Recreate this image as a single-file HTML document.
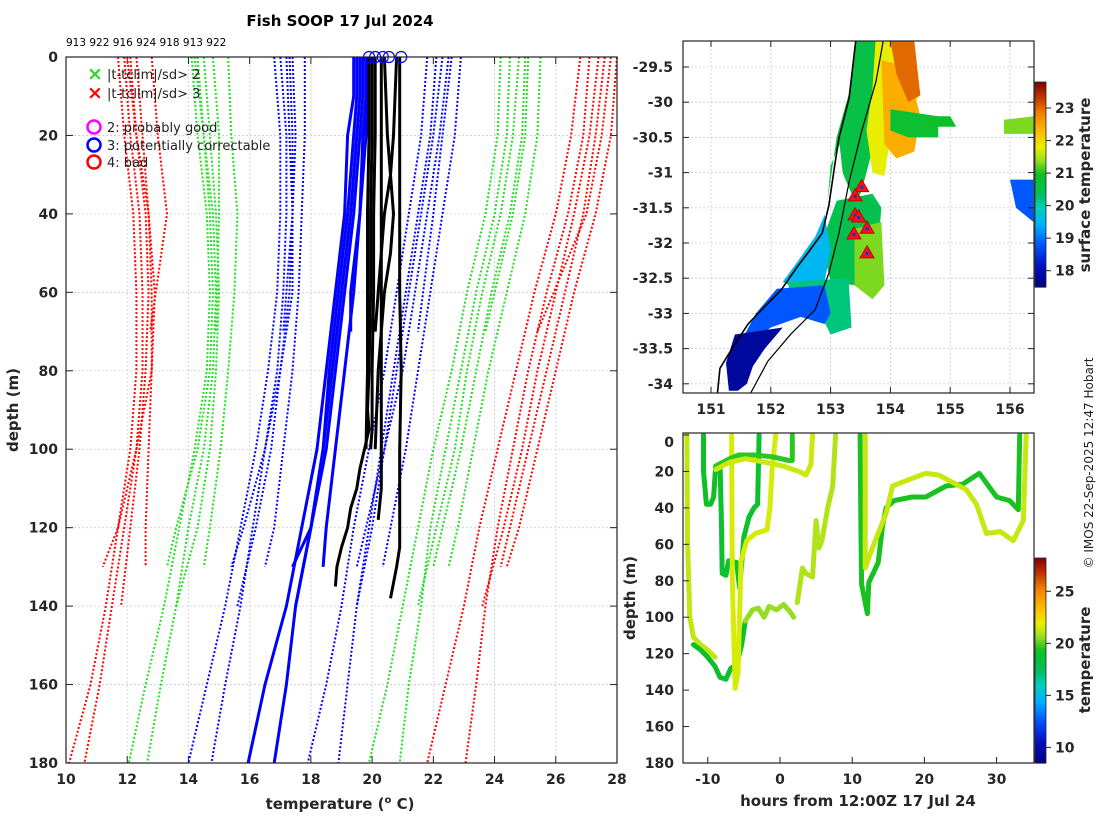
<!DOCTYPE html>
<html><head><meta charset="utf-8"><style>
html,body{margin:0;padding:0;background:#fff;}
svg{display:block;font-family:"DejaVu Sans","Liberation Sans",sans-serif;}
.tk{font-size:14px;font-weight:bold;fill:#262626;}
</style></head><body>
<svg id="fig" width="1100" height="820" viewBox="0 0 1100 820">
<text x="340" y="26" text-anchor="middle" font-size="15" font-weight="bold">Fish SOOP 17 Jul 2024</text>
<text x="66" y="46" font-size="10.5">913 922 916 924 918 913 922</text>
<g id="main"></g>
<g id="map"></g>
<g id="sect"></g>
<text transform="translate(1093,463) rotate(-90)" text-anchor="middle" font-size="12" fill="#222">© IMOS 22-Sep-2025 12:47 Hobart</text>
</svg>
<script>
// ---------- Profile plot data ----------
const D180=[0,20,40,60,80,100,120,140,160,180];
const D140=[0,20,40,60,80,100,120,140];
const D130=[0,20,40,60,80,100,120,130];
const D70=[0,20,40,70];
const redLeft=[
 [D180,[11.7,11.9,12.2,12.3,12.3,12.1,11.7,11.3,10.8,10.1]],
 [D180,[11.9,12.1,12.4,12.5,12.5,12.3,11.9,11.5,11.1,10.6]],
 [D140,[12.1,12.3,12.6,12.7,12.6,12.4,12.1,11.8]],
 [D130,[12.3,12.5,12.7,12.8,12.8,12.3,11.7,11.2]],
 [D70,[12.8,13.0,13.3,12.75]],
 [D130,[12.0,12.3,12.7,12.9,12.8,12.7,12.6,12.6]]];
const greenLeft=[
 [D180,[14.1,14.3,14.6,14.7,14.6,14.2,13.7,13.2,12.6,12.05]],
 [D180,[14.3,14.5,14.8,14.9,14.8,14.5,14.0,13.6,13.1,12.65]],
 [D140,[14.5,14.7,14.9,15.0,14.9,14.7,14.3,13.6]],
 [D130,[14.2,14.5,14.7,14.8,14.7,14.3,13.6,13.3]],
 [D70,[14.8,15.0,15.0,14.9]],
 [D130,[15.3,15.4,15.6,15.5,15.3,15.05,14.7,14.5]]];
const blueLeft=[
 [D180,[16.8,17.0,17.0,16.9,16.6,16.2,15.7,15.2,14.6,14.0]],
 [D180,[17.0,17.2,17.2,17.1,16.9,16.5,16.1,15.7,15.2,14.75]],
 [D140,[17.2,17.3,17.4,17.3,17.0,16.7,16.2,15.6]],
 [D130,[17.3,17.4,17.4,17.4,17.0,16.5,15.8,15.4]],
 [D70,[17.4,17.5,17.4,17.1]],
 [D130,[17.8,17.8,17.7,17.6,17.4,17.1,16.8,16.5]]];
const blueRight=[
 [D180,[21.8,21.6,21.2,20.8,20.4,19.9,19.4,19.0,18.5,17.9]],
 [D180,[22.1,21.9,21.5,21.1,20.7,20.3,19.9,19.5,19.2,18.9]],
 [D140,[22.3,22.0,21.6,21.2,20.8,20.4,20.0,19.5]],
 [D130,[22.5,22.2,21.8,21.4,21.0,20.4,19.8,19.5]],
 [D70,[22.6,22.3,22.0,21.5]],
 [D130,[22.9,22.7,22.3,21.9,21.5,21.1,20.6,20.35]]];
const greenRight=[
 [D180,[24.2,24.1,23.7,23.1,22.6,22.0,21.5,21.0,20.5,19.9]],
 [D180,[24.5,24.4,24.0,23.4,22.9,22.4,21.9,21.6,21.2,20.9]],
 [D140,[24.8,24.6,24.2,23.6,23.1,22.7,22.1,21.5]],
 [D130,[25.0,24.9,24.5,23.9,23.4,22.9,22.3,22.0]],
 [D70,[25.1,25.0,24.6,23.7]],
 [D130,[25.5,25.4,25.0,24.4,23.8,23.3,22.8,22.5]]];
const redRight=[
 [D180,[26.8,26.5,26.0,25.3,24.7,24.1,23.5,23.0,22.4,21.8]],
 [D180,[27.1,26.9,26.4,25.7,25.1,24.6,24.1,23.7,23.4,23.05]],
 [D140,[27.4,27.1,26.6,26.0,25.4,24.9,24.3,23.6]],
 [D130,[27.6,27.3,26.9,26.3,25.7,25.1,24.5,24.2]],
 [D70,[27.8,27.5,27.0,25.4]],
 [D130,[28.0,27.8,27.3,26.6,26.0,25.4,24.8,24.4]]];
const DS=[0,10,20,40,60,80,100,120,140,160,180];
const blueSolid=[
 [DS,[19.4,19.4,19.2,19.1,18.8,18.5,18.2,17.7,17.2,16.5,15.95]],
 [DS,[19.5,19.5,19.4,19.2,18.9,18.6,18.4,18.0,17.5,17.2,16.8]],
 [DS.slice(0,9),[19.6,19.6,19.5,19.3,19.0,18.7,18.4,18.0,17.5]],
 [[0,10,20,40,60,80,100,120,130],[19.7,19.7,19.6,19.4,19.1,18.8,18.5,18.0,17.4]],
 [[0,10,20,40,60,80,100,120,130],[19.8,19.8,19.7,19.6,19.4,19.1,18.8,18.5,18.4]],
 [[0,10,20,40,60,70],[19.9,19.8,19.8,19.6,19.3,19.3]]];
const blackProfiles=[
 [[0,20,40,60,80,90,95,100,105,110,115,120,125,130,135],[20.0,20.0,19.95,19.95,19.9,19.85,19.9,19.75,19.6,19.5,19.3,19.2,19.0,18.85,18.8]],
 [[0,20,40,60,80,100,110,120,125,130,138],[20.9,20.9,20.9,20.9,20.95,20.9,20.9,20.9,20.9,20.8,20.6]],
 [[0,20,40,60,80,100,110,118],[20.3,20.3,20.3,20.3,20.3,20.3,20.3,20.2]],
 [[0,20,30,40,50,60,80,100],[20.4,20.5,20.6,20.7,20.6,20.4,20.2,20.1]],
 [[0,20,40,60,80,95,100],[20.1,20.1,20.05,20.05,20.0,20.0,19.95]],
 [[0,20,30,40,50,60,70],[20.8,20.7,20.6,20.4,20.3,20.2,20.1]],
 [[0,20,40,60,80,100],[19.9,19.9,19.85,19.85,19.85,19.8]]];
const flagCircles=[19.9,20.1,20.35,20.55,20.95];
const tempTicks=[10,12,14,16,18,20,22,24,26,28];
const depthTicks=[0,20,40,60,80,100,120,140,160,180];

// ---------- Map data ----------
const lonTicks=[151,152,153,154,155,156];
const latTicks=[-29.5,-30,-30.5,-31,-31.5,-32,-32.5,-33,-33.5,-34];
const coastLon=[153.42,153.31,153.14,153.07,152.97,152.86,152.62,152.45,152.17,151.89,151.62,151.33,151.15,151.1];
const coastLat=[-29.13,-29.94,-30.51,-30.89,-31.47,-31.86,-32.14,-32.33,-32.67,-32.91,-33.15,-33.53,-33.78,-34.2];
const isoLon=[153.88,153.76,153.52,153.31,153.14,152.97,152.74,152.34,151.95,151.62];
const isoLat=[-29.13,-29.70,-30.41,-31.13,-31.86,-32.43,-32.95,-33.29,-33.68,-34.2];
const sstPatches=[
 {t:20.6,lon:[153.42,153.9,153.8,153.75,153.6,153.5,153.4,153.3,153.2,153.15,153.0,152.95,153.1,153.3],lat:[-29.13,-29.13,-29.8,-30.5,-31.0,-31.3,-31.4,-31.2,-31.0,-30.6,-30.9,-31.4,-30.5,-29.9]},
 {t:21.8,lon:[153.75,154.4,154.5,154.2,154.0,153.9,153.7,153.6,153.7],lat:[-29.13,-29.13,-29.9,-30.2,-30.5,-31.05,-31.0,-30.4,-29.8]},
 {t:22.4,lon:[153.85,154.3,154.5,154.4,154.1,153.9],lat:[-29.4,-29.5,-30.2,-30.7,-30.8,-30.6]},
 {t:23.0,lon:[154.0,154.4,154.5,154.3,154.1],lat:[-29.13,-29.13,-29.9,-30.0,-29.6]},
 {t:20.8,lon:[154.0,154.8,154.8,154.3,154.0],lat:[-30.1,-30.2,-30.5,-30.5,-30.4]},
 {t:20.5,lon:[153.1,153.7,153.85,153.8,153.6,153.4,153.0,152.85],lat:[-31.4,-31.3,-31.5,-32.0,-32.5,-32.6,-32.55,-32.0]},
 {t:21.3,lon:[153.4,153.85,153.9,153.7,153.4],lat:[-31.8,-31.7,-32.6,-32.8,-32.6]},
 {t:19.5,lon:[152.9,152.75,152.5,152.2,152.3,152.55,152.9,153.0],lat:[-31.6,-31.9,-32.2,-32.55,-32.6,-32.55,-32.55,-32.1]},
 {t:20.2,lon:[152.3,153.3,153.35,153.0,152.8,152.3],lat:[-32.55,-32.5,-33.2,-33.3,-32.95,-32.8]},
 {t:18.8,lon:[152.1,152.9,153.0,152.9,152.5,152.0,151.7,151.5,151.75],lat:[-32.65,-32.6,-33.0,-33.15,-33.05,-33.2,-33.4,-33.4,-33.0]},
 {t:17.8,lon:[151.4,152.2,151.9,151.7,151.6,151.45,151.3,151.25],lat:[-33.3,-33.2,-33.5,-33.75,-34.0,-34.1,-34.1,-33.7]},
 {t:20.9,lon:[154.6,155.0,155.1,154.6],lat:[-30.2,-30.2,-30.35,-30.35]},
 {t:21.3,lon:[155.9,156.39,156.39,155.9],lat:[-30.25,-30.2,-30.45,-30.45]},
 {t:18.8,lon:[156.0,156.39,156.39,156.1],lat:[-31.1,-31.1,-31.7,-31.5]}];
const sstTriLon=[153.52,153.41,153.41,153.47,153.61,153.39,153.61];
const sstTriLat=[-31.2,-31.33,-31.6,-31.63,-31.79,-31.87,-32.14];
const sstBarTicks=[18,19,20,21,22,23];

// ---------- Depth-time section data ----------
const hourTicks=[-10,0,10,20,30];
const secDepthTicks=[0,20,40,60,80,100,120,140,160,180];
const secBarTicks=[10,15,20,25];
const sections=[
 {t:21.2,h:[-12.9,-12.8,-12.5,-12.0,-11.0,-10.0,-9.0],d:[0,60,100,111,115,118,122]},
 {t:19.0,h:[-12.0,-11.0,-10.0,-9.0,-8.3,-7.5,-6.8,-6.0,-5.3,-4.8],d:[115,118,122,127,133,134,128,126,115,102]},
 {t:20.6,h:[-4.8,-3.8,-3,-2.2,-1.5,-0.5,0.5,1.4,1.9],d:[102,96,95,100,94,96,93,97,100]},
 {t:21.0,h:[2.4,3.1,3.6,4.5,5.0,5.4,5.8,6.6,7.3,7.7],d:[92,73,76,78,47,62,58,40,28,0]},
 {t:19.2,h:[-10.6,-10.6,-10.2,-9.6,-9.2,-8.9],d:[0,20,38,38,34,17]},
 {t:18.9,h:[-8.3,-8.1,-8.0,-7.5,-7.1,-6.0,-5.6,-5.0,-4.3,-3.6,-3.1,-2.9],d:[17,50,76,77,69,70,84,56,45,40,38,0]},
 {t:21.6,h:[-6.7,-6.6,-6.2,-5.8,-5.4,-4.6,-3.4,-1.8,-1.4,-1.1,-0.6],d:[0,80,139,130,69,58,54,52,40,19,0]},
 {t:19.6,h:[-8.9,-7,-5.7,-3.5,-1,1.25,1.7,1.7],d:[17,13,11,11,12,14,14,0]},
 {t:21.4,h:[-8.9,-7,-4.8,-2,0.4,2.6,3.6,4.3,4.5],d:[19,15,13,15,17,20,22,16,0]},
 {t:19.4,h:[11.1,11.2,11.3,12.1,12.3,13.6,14.2,14.7,15.8,18.3,20.2,23,25.3,27.6,30,31.8,33,33.2],d:[0,50,82,98,81,70,50,40,36,34,34,28,27,21,34,36,41,0]},
 {t:21.3,h:[11.8,11.8,12.8,14.7,15.6,17.5,20.2,22,25.8,27.2,28.6,30.5,32.3,33.7,34.1],d:[0,73,62,43,28,25,21,22,30,38,54,53,58,47,0]}];

// ---------- helpers ----------
const NS='http://www.w3.org/2000/svg';
function mk(parent,tag,attrs){const e=document.createElementNS(NS,tag);for(const k in attrs)e.setAttribute(k,attrs[k]);parent.appendChild(e);return e;}
const CM=[[0,0,0,127],[0.1,0,16,192],[0.2,0,80,255],[0.3,0,176,255],[0.38,0,208,192],[0.45,0,192,96],[0.55,16,192,32],[0.62,160,224,32],[0.68,232,240,0],[0.75,255,192,0],[0.85,240,128,0],[0.93,192,48,0],[1,128,0,0]];
function jet(f){f=Math.max(0,Math.min(1,f));
 for(let i=1;i<CM.length;i++){if(f<=CM[i][0]){const a=CM[i-1],b=CM[i],u=(f-a[0])/(b[0]-a[0]);
  return 'rgb('+[1,2,3].map(k=>Math.round(a[k]+(b[k]-a[k])*u)).join(',')+')';}}
 return 'rgb(128,0,0)';}

// ---------- Profile plot ----------
const M={x0:66,x1:617,y0:57,y1:763};
const px=t=>M.x0+(t-10)/18*(M.x1-M.x0);
const py=d=>M.y0+d/180*(M.y1-M.y0);
const main=document.getElementById('main');
tempTicks.forEach(t=>{
 const l=mk(main,'line',{x1:px(t),x2:px(t),y1:M.y0,y2:M.y1,stroke:'#c8cce0','stroke-width':0.8,'stroke-dasharray':'2,2'});
 
 
 mk(main,'line',{x1:px(t),x2:px(t),y1:M.y1,y2:M.y1-7,stroke:'#222'});
 mk(main,'line',{x1:px(t),x2:px(t),y1:M.y0,y2:M.y0+7,stroke:'#222'});
 const tx=mk(main,'text',{x:px(t),y:M.y1+21,'text-anchor':'middle',class:'tk'});tx.textContent=t;
 
 
});
depthTicks.forEach(d=>{
 const l=mk(main,'line',{x1:M.x0,x2:M.x1,y1:py(d),y2:py(d),stroke:'#c8cce0','stroke-width':0.8,'stroke-dasharray':'2,2'});
 
 
 mk(main,'line',{x1:M.x0,x2:M.x0+7,y1:py(d),y2:py(d),stroke:'#222'});
 mk(main,'line',{x1:M.x1,x2:M.x1-7,y1:py(d),y2:py(d),stroke:'#222'});
 const tx=mk(main,'text',{x:M.x0-8,y:py(d)+5,'text-anchor':'end',class:'tk'});tx.textContent=d;
 
 
});
function prof(list,color,dash,w,name){
 list.forEach(c=>{
  const pts=c[0].map((d,i)=>px(c[1][i]).toFixed(1)+','+py(d).toFixed(1)).join(' ');
  const a={points:pts,fill:'none',stroke:color,'stroke-width':w,'stroke-linejoin':'round'};
  if(dash)a['stroke-dasharray']=dash;
  const p=mk(main,'polyline',a);
  
  
 });
}
prof(redLeft,'#ff0000','2,2',2,'clim-3sd-lower');
prof(redRight,'#ff0000','2,2',2,'clim-3sd-upper');
prof(greenLeft,'#22dd22','2,2',2,'clim-2sd-lower');
prof(greenRight,'#22dd22','2,2',2,'clim-2sd-upper');
prof(blueLeft,'#0000ff','2,2',2,'clim-1sd-lower');
prof(blueRight,'#0000ff','2,2',2,'clim-1sd-upper');
prof(blueSolid,'#0000ff',null,3,'flagged-profile');
prof(blackProfiles,'#000000',null,3,'temperature-profile');
flagCircles.forEach(t=>{
 const c=mk(main,'circle',{cx:px(t),cy:py(0),r:5.5,fill:'none',stroke:'#0000ff','stroke-width':1.2});
 
 
});
mk(main,'rect',{x:M.x0,y:M.y0,width:M.x1-M.x0,height:M.y1-M.y0,fill:'none',stroke:'#222','stroke-width':1.2});
// legend
const lg=mk(main,'g',{'font-size':13,fill:'#222'});


[['×','#22dd22','|t-tclim|/sd> 2',74],['×','#ff0000','|t-tclim|/sd> 3',93]].forEach(r=>{
 const m=mk(lg,'text',{x:87,y:r[3]+6,fill:r[1],'font-size':19,'font-weight':'bold'});m.textContent=r[0];
 const t=mk(lg,'text',{x:107,y:r[3]+5});t.textContent=r[2];
 
 
});
[['#ff00ff','2: probably good',127],['#0000ff','3: potentially correctable',145],['#ff0000','4: bad',162]].forEach(r=>{
 mk(lg,'circle',{cx:94,cy:r[2],r:6.5,fill:'none',stroke:r[0],'stroke-width':2.5});
 const t=mk(lg,'text',{x:107,y:r[2]+5});t.textContent=r[1];
 
 
});
let t1=mk(main,'text',{transform:'translate(18,410) rotate(-90)','text-anchor':'middle','font-size':15,'font-weight':'bold',fill:'#262626'});
t1.textContent='depth (m)';


let t2=mk(main,'text',{x:340,y:809,'text-anchor':'middle','font-size':15,'font-weight':'bold',fill:'#262626'});
t2.innerHTML='temperature (<tspan dy="-6" font-size="10">o</tspan><tspan dy="6"> C)</tspan>';



// ---------- Map ----------
const P={x0:683,x1:1034,y0:41,y1:393};
const mx=l=>711+(l-151)*59.8;
const my=a=>67+(-29.5-a)*70.4;
const map=document.getElementById('map');
mk(map,'defs',{}).innerHTML='<clipPath id="mc"><rect x="683" y="41" width="351" height="352"/></clipPath><clipPath id="sc"><rect x="683" y="433" width="351" height="330"/></clipPath>';
const mg=mk(map,'g',{'clip-path':'url(#mc)'});
lonTicks.forEach(l=>{mk(mg,'line',{x1:mx(l),x2:mx(l),y1:P.y0,y2:P.y1,stroke:'#c8cce0','stroke-width':0.8,'stroke-dasharray':'2,2'});});
latTicks.forEach(a=>{mk(mg,'line',{x1:P.x0,x2:P.x1,y1:my(a),y2:my(a),stroke:'#c8cce0','stroke-width':0.8,'stroke-dasharray':'2,2'});});
const sstF=t=>(t-17.5)/(23.8-17.5);
sstPatches.forEach(p=>{
 const pts=p.lon.map((l,i)=>mx(l).toFixed(1)+','+my(p.lat[i]).toFixed(1)).join(' ');
 const e=mk(mg,'polygon',{points:pts,fill:jet(sstF(p.t))});
 
 
});
let cl=mk(mg,'polyline',{points:coastLon.map((l,i)=>mx(l)+','+my(coastLat[i])).join(' '),fill:'none',stroke:'#000','stroke-width':1.6});


let iso=mk(mg,'polyline',{points:isoLon.map((l,i)=>mx(l)+','+my(isoLat[i])).join(' '),fill:'none',stroke:'#000','stroke-width':1.2});


sstTriLon.forEach((l,i)=>{
 const x=mx(l),y=my(sstTriLat[i]);
 const tr=mk(mg,'polygon',{points:`${x},${y-7} ${x-7},${y+5} ${x+7},${y+5}`,fill:'#ff1010',stroke:'#c00000','stroke-width':1});
 
 
 mk(mg,'rect',{x:x-1.5,y:y-1,width:3,height:3,fill:'#0030ff'});
});
mk(map,'rect',{x:P.x0,y:P.y0,width:P.x1-P.x0,height:P.y1-P.y0,fill:'none',stroke:'#222','stroke-width':1.2});
lonTicks.forEach(l=>{
 mk(map,'line',{x1:mx(l),x2:mx(l),y1:P.y1,y2:P.y1-6,stroke:'#222'});
 mk(map,'line',{x1:mx(l),x2:mx(l),y1:P.y0,y2:P.y0+6,stroke:'#222'});
 const t=mk(map,'text',{x:mx(l),y:P.y1+21,'text-anchor':'middle',class:'tk'});t.textContent=l;
 
 
});
latTicks.forEach(a=>{
 mk(map,'line',{x1:P.x0,x2:P.x0+6,y1:my(a),y2:my(a),stroke:'#222'});
 mk(map,'line',{x1:P.x1,x2:P.x1-6,y1:my(a),y2:my(a),stroke:'#222'});
 const t=mk(map,'text',{x:P.x0-10,y:my(a)+5,'text-anchor':'end',class:'tk'});t.textContent=a;
 
 
});
function colorbar(parent,id,x,yTop,yBot,vTop,vBot,ticks,label,ly){
 const g=mk(parent,'g',{});
 
 
 const n=80,h=(yBot-yTop)/n;
 for(let i=0;i<n;i++)mk(g,'rect',{x:x,y:yTop+i*h,width:11,height:h+0.6,fill:jet(1-(i+0.5)/n)});
 mk(g,'rect',{x:x,y:yTop,width:11,height:yBot-yTop,fill:'none',stroke:'#222','stroke-width':0.8});
 const vy=v=>yBot-(v-vBot)/(vTop-vBot)*(yBot-yTop);
 ticks.forEach(v=>{
  mk(g,'line',{x1:x+11,x2:x+16,y1:vy(v),y2:vy(v),stroke:'#222'});
  const t=mk(g,'text',{x:x+20,y:vy(v)+5,class:'tk'});t.textContent=v;
  
  
 });
 const t=mk(g,'text',{transform:`translate(${x+55},${ly}) rotate(-90)`,'text-anchor':'middle','font-size':15,'font-weight':'bold',fill:'#262626'});
 t.textContent=label;
 
 
}
colorbar(map,'sst-colorbar',1035,82,287,23.8,17.5,sstBarTicks,'surface temperature',185);

// ---------- Section ----------
const S={x0:683,x1:1034,y0:433,y1:763};
const sx=h=>780+h*7.22;
const sy=d=>435+d/180*(S.y1-435);
const sect=document.getElementById('sect');
const sg=mk(sect,'g',{'clip-path':'url(#sc)'});
const tF=t=>(t-8.5)/(28.2-8.5);
sections.forEach(s=>{
 const p=mk(sg,'polyline',{points:s.h.map((h,i)=>sx(h).toFixed(1)+','+sy(s.d[i]).toFixed(1)).join(' '),fill:'none',stroke:jet(tF(s.t)),'stroke-width':5,'stroke-linejoin':'round','stroke-linecap':'round'});
 
 
});
mk(sect,'rect',{x:S.x0,y:S.y0,width:S.x1-S.x0,height:S.y1-S.y0,fill:'none',stroke:'#222','stroke-width':1.2});
hourTicks.forEach(h=>{
 mk(sect,'line',{x1:sx(h),x2:sx(h),y1:S.y1,y2:S.y1-6,stroke:'#222'});
 const t=mk(sect,'text',{x:sx(h),y:S.y1+21,'text-anchor':'middle',class:'tk'});t.textContent=h;
 
 
});
secDepthTicks.forEach(d=>{
 mk(sect,'line',{x1:S.x0,x2:S.x0+6,y1:sy(d),y2:sy(d),stroke:'#222'});
 const t=mk(sect,'text',{x:S.x0-9,y:Math.max(sy(d)+5,447),'text-anchor':'end',class:'tk'});t.textContent=d;
 
 
});
let t3=mk(sect,'text',{transform:'translate(635,598) rotate(-90)','text-anchor':'middle','font-size':15,'font-weight':'bold',fill:'#262626'});
t3.textContent='depth (m)';


let t4=mk(sect,'text',{x:858,y:806,'text-anchor':'middle','font-size':15,'font-weight':'bold',fill:'#262626'});
t4.textContent='hours from 12:00Z 17 Jul 24';


colorbar(sect,'temperature-colorbar',1035,558,763,28.2,8.5,secBarTicks,'temperature',660);
</script>
</body></html>
